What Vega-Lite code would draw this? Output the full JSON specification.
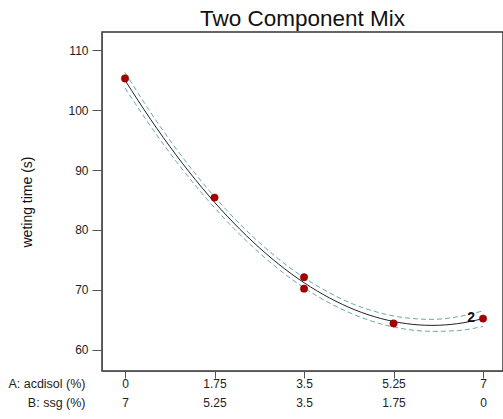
{
  "$schema": "https://vega.github.io/schema/vega-lite/v6.json",
  "autosize": "none",
  "width": 401,
  "height": 339,
  "padding": {"left": 102, "top": 32, "right": 0, "bottom": 48},
  "background": "white",
  "config": {
    "font": "Liberation Sans",
    "view": {"stroke": "#333333", "strokeWidth": 1.5},
    "axis": {"grid": false, "domainColor": "#555555", "tickColor": "#555555", "labelColor": "#222222", "labelFont": "Liberation Sans", "titleFont": "Liberation Sans", "titleFontWeight": "normal"}
  },
  "title": {"text": "Two Component Mix", "fontSize": 22.5, "fontWeight": "normal", "font": "Liberation Sans", "color": "#111111", "baseline": "bottom", "offset": 1, "dy": 22, "anchor": "middle"},
  "datasets": {
    "fit": [
      {"x": 0, "y": 105.0, "lo": 103.7, "hi": 106.3},
      {"x": 0.5, "y": 98.47, "lo": 97.32, "hi": 99.62},
      {"x": 1, "y": 92.5, "lo": 91.45, "hi": 93.55},
      {"x": 1.5, "y": 87.11, "lo": 86.16, "hi": 88.06},
      {"x": 2, "y": 82.28, "lo": 81.38, "hi": 83.18},
      {"x": 2.5, "y": 78.02, "lo": 77.17, "hi": 78.87},
      {"x": 3, "y": 74.32, "lo": 73.47, "hi": 75.17},
      {"x": 3.5, "y": 71.19, "lo": 70.34, "hi": 72.04},
      {"x": 4, "y": 68.64, "lo": 67.79, "hi": 69.49},
      {"x": 4.5, "y": 66.64, "lo": 65.79, "hi": 67.49},
      {"x": 5, "y": 65.22, "lo": 64.32, "hi": 66.12},
      {"x": 5.5, "y": 64.36, "lo": 63.41, "hi": 65.31},
      {"x": 6, "y": 64.07, "lo": 63.07, "hi": 65.07},
      {"x": 6.5, "y": 64.35, "lo": 63.2, "hi": 65.5},
      {"x": 7, "y": 65.19, "lo": 63.89, "hi": 66.49}
    ],
    "obs": [
      {"x": 0, "y": 105.3, "rep": ""},
      {"x": 1.75, "y": 85.4, "rep": ""},
      {"x": 3.5, "y": 72.1, "rep": ""},
      {"x": 3.5, "y": 70.2, "rep": ""},
      {"x": 5.25, "y": 64.4, "rep": ""},
      {"x": 7, "y": 65.2, "rep": "2"}
    ]
  },
  "encoding": {
    "x": {
      "field": "x", "type": "quantitative",
      "scale": {"domain": [-0.45, 7.39], "nice": false, "zero": false},
      "axis": {
        "values": [0, 1.75, 3.5, 5.25, 7],
        "labelExpr": "[format(datum.value, '~g'), format(7 - datum.value, '~g')]",
        "labelFontSize": 12, "labelLineHeight": 19.5, "labelPadding": 0, "tickSize": 7,
        "title": ["A: acdisol (%)", "B: ssg (%)"],
        "titleFontSize": 12.5, "titleLineHeight": 19.5, "titleColor": "#222222",
        "titleAlign": "right", "titleBaseline": "top", "titleAngle": 0,
        "titleX": -17, "titleY": 6
      }
    },
    "y": {
      "field": "y", "type": "quantitative",
      "scale": {"domain": [56.45, 113.05], "nice": false, "zero": false},
      "axis": {
        "values": [60, 70, 80, 90, 100, 110],
        "labelFontSize": 12, "tickSize": 10, "labelPadding": 4,
        "title": "weting time (s)", "titleFontSize": 14, "titleColor": "#111111",
        "titlePadding": 33
      }
    }
  },
  "layer": [
    {"data": {"name": "fit"}, "mark": {"type": "line", "color": "#66aaaa", "strokeWidth": 1, "strokeDash": [5, 3], "interpolate": "monotone"}, "encoding": {"y": {"field": "hi", "type": "quantitative"}}},
    {"data": {"name": "fit"}, "mark": {"type": "line", "color": "#66aaaa", "strokeWidth": 1, "strokeDash": [5, 3], "interpolate": "monotone"}, "encoding": {"y": {"field": "lo", "type": "quantitative"}}},
    {"data": {"name": "fit"}, "mark": {"type": "line", "color": "#222222", "strokeWidth": 1, "interpolate": "monotone"}, "encoding": {}},
    {"data": {"name": "obs"}, "mark": {"type": "circle", "color": "#a80000", "opacity": 1, "size": 55, "stroke": "#700000", "strokeWidth": 0.5}, "encoding": {}},
    {"data": {"name": "obs"}, "mark": {"type": "text", "dx": -12, "dy": -1, "fontSize": 14, "fontWeight": "bold", "color": "#111111", "font": "Liberation Sans"}, "encoding": {"text": {"field": "rep"}}}
  ]
}
